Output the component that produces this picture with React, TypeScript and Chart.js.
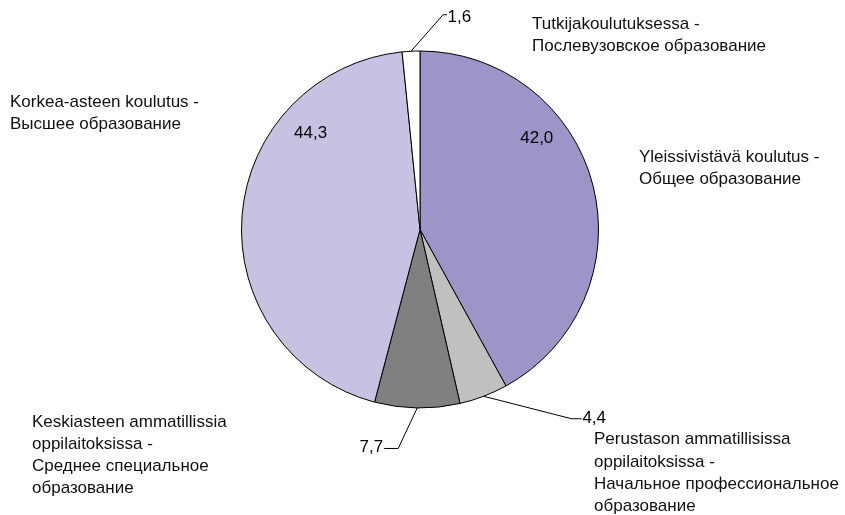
import React, { useEffect, useRef } from "react";
import { Chart, registerables } from "chart.js";

Chart.register(...registerables);

const categories = [
  "Yleissivistävä koulutus - Общее образование",
  "Perustason ammatillisissa oppilaitoksissa - Начальное профессиональное образование",
  "Keskiasteen ammatillissia oppilaitoksissa - Среднее специальное образование",
  "Korkea-asteen koulutus - Высшее образование",
  "Tutkijakoulutuksessa - Послевузовское образование",
];
const values = [42.0, 4.4, 7.7, 44.3, 1.6];
const valueLabels = ["42,0", "4,4", "7,7", "44,3", "1,6"];
const categoryLines = [
  ["Yleissivistävä koulutus -", "Общее образование"],
  ["Perustason ammatillisissa", "oppilaitoksissa -", "Начальное профессиональное", "образование"],
  ["Keskiasteen ammatillissia", "oppilaitoksissa -", "Среднее специальное", "образование"],
  ["Korkea-asteen koulutus -", "Высшее образование"],
  ["Tutkijakoulutuksessa -", "Послевузовское образование"],
];
const colors = ["#9b95c8", "#c0c0c0", "#808080", "#c6c3e2", "#ffffff"];

// layout of annotations (positions/styles only)
type ValuePos =
  | { kind: "inside"; frac: number; r: number }
  | { kind: "leader"; dx: number; dy: number; hx: number; tx: number; tb: number };
const valuePos: ValuePos[] = [
  { kind: "inside", frac: 0.344, r: 0.83 },
  { kind: "leader", dx: 88, dy: 22.5, hx: 10, tx: 0.8, tb: 4.3 },
  { kind: "leader", dx: -19, dy: 40.5, hx: -14, tx: -1, tb: 4 },
  { kind: "inside", frac: 0.731, r: 0.816 },
  { kind: "leader", dx: 32, dy: -36.5, hx: 4, tx: 0.5, tb: 7 },
];
const catPos = [
  { x: 639, y: 161.7 },
  { x: 594, y: 444.3 },
  { x: 32, y: 426.7 },
  { x: 10, y: 106.7 },
  { x: 532, y: 28.5 },
];
const LINE_H = 22.2;
const FONT = "17px 'Liberation Sans', Arial, sans-serif";

const labelPlugin = {
  id: "pieLabels",
  afterDatasetsDraw(chart: any) {
    const ctx = chart.ctx as CanvasRenderingContext2D;
    const meta = chart.getDatasetMeta(0);
    ctx.save();
    ctx.font = FONT;
    // value labels
    meta.data.forEach((arc: any, i: number) => {
      const { x, y, startAngle, endAngle, outerRadius } = arc.getProps(
        ["x", "y", "startAngle", "endAngle", "outerRadius"],
        true
      );
      const vp = valuePos[i];
      ctx.fillStyle = "#000000";
      ctx.textBaseline = "alphabetic";
      if (vp.kind === "inside") {
        const a = startAngle + (endAngle - startAngle) * vp.frac;
        const px = x + Math.cos(a) * outerRadius * vp.r;
        const py = y + Math.sin(a) * outerRadius * vp.r;
        ctx.textAlign = "center";
        ctx.textBaseline = "middle";
        ctx.fillText(valueLabels[i], px, py);
      } else {
        const a = (startAngle + endAngle) / 2;
        const ex = x + Math.cos(a) * outerRadius;
        const ey = y + Math.sin(a) * outerRadius;
        const mx = ex + vp.dx;
        const my = ey + vp.dy;
        const hx = mx + vp.hx;
        ctx.strokeStyle = "#000000";
        ctx.lineWidth = 1;
        ctx.beginPath();
        ctx.moveTo(ex, ey);
        ctx.lineTo(mx, my);
        ctx.lineTo(hx, my);
        ctx.stroke();
        ctx.textAlign = vp.hx >= 0 ? "left" : "right";
        ctx.fillText(valueLabels[i], hx + vp.tx, my + vp.tb);
      }
    });
    // category labels
    categoryLines.forEach((lines, i) => {
      const p = catPos[i];
      if (i === 1) {
        ctx.fillStyle = "#ffffff";
        ctx.fillRect(p.x - 2, p.y - 19, 240, LINE_H * lines.length + 4);
      }
      ctx.fillStyle = "#111111";
      ctx.textAlign = "left";
      ctx.textBaseline = "alphabetic";
      lines.forEach((t, j) => ctx.fillText(t, p.x, p.y + j * LINE_H));
    });
    ctx.restore();
  },
};

export default function App() {
  const ref = useRef<HTMLCanvasElement>(null);
  useEffect(() => {
    if (!ref.current) return;
    const chart = new Chart(ref.current, {
      type: "pie",
      data: {
        labels: categories,
        datasets: [
          {
            data: values,
            backgroundColor: colors,
            borderColor: "#000000",
            borderWidth: 1,
          },
        ],
      },
      options: {
        responsive: false,
        animation: false,
        devicePixelRatio: 1,
        layout: { padding: { left: 241, right: 246, top: 50, bottom: 106 } },
        plugins: {
          legend: { display: false },
          tooltip: { enabled: false },
          title: { display: false },
        },
      },
      plugins: [labelPlugin],
    });
    return () => chart.destroy();
  }, []);
  return (
    <div style={{ position: "absolute", left: 0, top: 0, width: 845, height: 515, background: "#fff" }}>
      <canvas ref={ref} width={845} height={515} style={{ width: 845, height: 515, display: "block" }} />
    </div>
  );
}
